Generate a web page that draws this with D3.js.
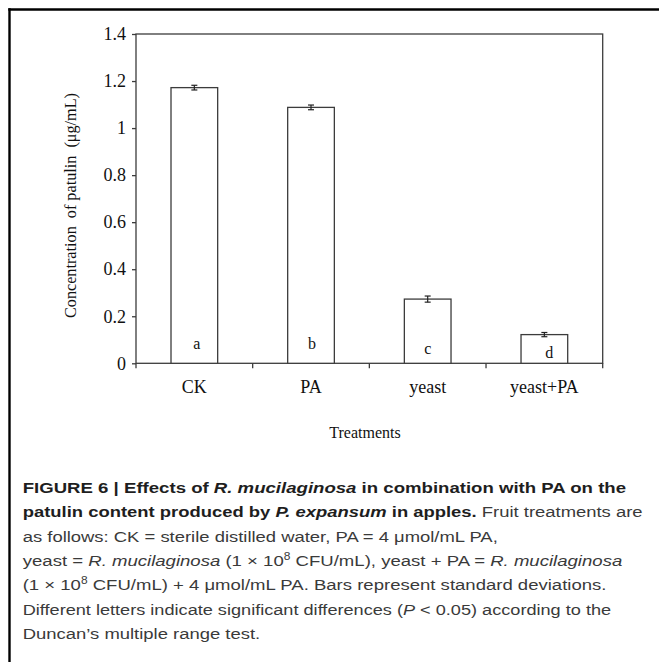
<!DOCTYPE html>
<html>
<head>
<meta charset="utf-8">
<script src="https://cdn.jsdelivr.net/npm/d3@7/dist/d3.min.js"></script>
<style>
  html, body { margin: 0; padding: 0; background: #fff; }
  svg { display: block; }
</style>
</head>
<body>
<svg id="chart" width="659" height="662"></svg>
<script>
// ---------------- DATA ----------------
const categories = ["CK", "PA", "yeast", "yeast+PA"];
const patulinValues = [1.172, 1.088, 0.273, 0.122];
const patulinSD = [0.010, 0.010, 0.013, 0.009];
const significanceLetters = ["a", "b", "c", "d"];
const yTickValues = [0, 0.2, 0.4, 0.6, 0.8, 1.0, 1.2, 1.4];
const yTickLabels = ["0", "0.2", "0.4", "0.6", "0.8", "1", "1.2", "1.4"];
const yAxisTitle = "Concentration  of patulin  (\u03BCg/mL)";
const xAxisTitle = "Treatments";

// caption lines: arrays of [text, style] runs
const captionLines = [
  [["FIGURE 6 | Effects of ", "b"], ["R. mucilaginosa", "bi"], [" in combination with PA on the", "b"]],
  [["patulin content produced by ", "b"], ["P. expansum", "bi"], [" in apples.", "b"], [" Fruit treatments are", "r"]],
  [["as follows: CK = sterile distilled water, PA = 4 \u03BCmol/mL PA,", "r"]],
  [["yeast = ", "r"], ["R. mucilaginosa", "i"], [" (1 \u00D7 10", "r"], ["8", "sup"], [" CFU/mL), yeast + PA = ", "r"], ["R. mucilaginosa", "i"]],
  [["(1 \u00D7 10", "r"], ["8", "sup"], [" CFU/mL) + 4 \u03BCmol/mL PA. Bars represent standard deviations.", "r"]],
  [["Different letters indicate significant differences (", "r"], ["P", "i"], [" < 0.05) according to the", "r"]],
  [["Duncan\u2019s multiple range test.", "r"]]
];

// ---------------- LAYOUT ----------------
const plot = { left: 136, right: 602.7, top: 34, bottom: 363.3 };
const captionLayout = { x: 22.7, firstBaseline: 493, lineGap: 24.3,
  lineEnds: [626.7, 643, 498.3, 622.7, 606.7, 611.7, null] };
const letterNudge = [{dx: 2.5, y: 349}, {dx: 1, y: 349}, {dx: 0, y: 354}, {dx: 5, y: 357.5}];

const svg = d3.select("#chart");
const serif = "'Liberation Serif', 'Times New Roman', serif";
const sans = "'Liberation Sans', Arial, Helvetica, sans-serif";
const axisColor = "#3c3c3c";

// page frame (top + left rules)
svg.append("line").attr("x1", 8.3).attr("x2", 659).attr("y1", 9.5).attr("y2", 9.5)
  .attr("stroke", "#000").attr("stroke-width", 2.4);
svg.append("line").attr("x1", 9.5).attr("x2", 9.5).attr("y1", 8.3).attr("y2", 662)
  .attr("stroke", "#000").attr("stroke-width", 2.4);

// scales
const x = d3.scaleBand().domain(categories).range([plot.left, plot.right]).paddingInner(0.6).paddingOuter(0.3);
const xOuter = d3.scaleBand().domain(categories).range([plot.left, plot.right]).padding(0);
const y = d3.scaleLinear().domain([0, 1.4]).range([plot.bottom, plot.top]);

// plot frame
svg.append("rect").attr("x", plot.left).attr("y", plot.top)
  .attr("width", plot.right - plot.left).attr("height", plot.bottom - plot.top)
  .attr("fill", "none").attr("stroke", axisColor).attr("stroke-width", 1.3);

// y axis
const yAxis = d3.axisLeft(y).tickValues(yTickValues)
  .tickFormat((d, i) => yTickLabels[i]).tickSize(4).tickPadding(6);
const gy = svg.append("g").attr("transform", `translate(${plot.left},0)`).call(yAxis);
gy.select(".domain").remove();
gy.selectAll(".tick line").attr("stroke", axisColor).attr("stroke-width", 1.3);
gy.selectAll(".tick text").attr("font-family", serif).attr("font-size", 18).attr("fill", "#111");

// x axis: ticks at band boundaries
const xAxis = d3.axisBottom(x).tickSize(0).tickPadding(17);
const gx = svg.append("g").attr("transform", `translate(0,${plot.bottom})`).call(xAxis);
gx.select(".domain").remove();
gx.selectAll(".tick text").attr("font-family", serif).attr("font-size", 18).attr("fill", "#111");
const boundaries = categories.map(c => xOuter(c)).concat([plot.right]);
svg.append("g").selectAll("line").data(boundaries).join("line")
  .attr("x1", d => d).attr("x2", d => d).attr("y1", plot.bottom).attr("y2", plot.bottom + 5)
  .attr("stroke", axisColor).attr("stroke-width", 1.3);

// bars
svg.append("g").selectAll("rect").data(categories).join("rect")
  .attr("x", d => x(d)).attr("width", x.bandwidth())
  .attr("y", (d, i) => y(patulinValues[i]))
  .attr("height", (d, i) => y(0) - y(patulinValues[i]))
  .attr("fill", "#fff").attr("stroke", axisColor).attr("stroke-width", 1.3);

// error bars
const eb = svg.append("g").attr("stroke", "#222").attr("stroke-width", 1.2);
categories.forEach((c, i) => {
  const cx = x(c) + x.bandwidth() / 2;
  const v = patulinValues[i], e = patulinSD[i];
  eb.append("line").attr("x1", cx).attr("x2", cx).attr("y1", y(v - e)).attr("y2", y(v + e));
  eb.append("line").attr("x1", cx - 3).attr("x2", cx + 3).attr("y1", y(v - e)).attr("y2", y(v - e));
  eb.append("line").attr("x1", cx - 3).attr("x2", cx + 3).attr("y1", y(v + e)).attr("y2", y(v + e));
});

// significance letters
svg.append("g").selectAll("text").data(categories).join("text")
  .attr("x", (d, i) => x(d) + x.bandwidth() / 2 + letterNudge[i].dx)
  .attr("y", (d, i) => letterNudge[i].y)
  .attr("text-anchor", "middle").attr("font-family", serif).attr("font-size", 16).attr("fill", "#111")
  .text((d, i) => significanceLetters[i]);

// y axis title
svg.append("text")
  .attr("transform", `translate(76,205.5) rotate(-90)`)
  .attr("text-anchor", "middle").attr("font-family", serif).attr("font-size", 16.5).attr("fill", "#111")
  .attr("xml:space", "preserve").style("white-space", "pre")
  .attr("textLength", 225).attr("lengthAdjust", "spacingAndGlyphs")
  .text(yAxisTitle);

// x axis title
svg.append("text").attr("x", 365).attr("y", 438).attr("text-anchor", "middle")
  .attr("font-family", serif).attr("font-size", 16).attr("fill", "#111").text(xAxisTitle);

// caption
const capG = svg.append("g");
const lineNodes = [];
captionLines.forEach((runs, li) => {
  const t = capG.append("text").attr("x", 0).attr("y", 0)
    .attr("font-family", sans).attr("font-size", 15.5).style("white-space", "pre");
  let supShift = 0;
  runs.forEach(([txt, st]) => {
    const ts = t.append("tspan").text(txt);
    if (st === "b" || st === "bi") ts.attr("font-weight", "bold").attr("fill", "#1e1e1e");
    else ts.attr("fill", "#3a3a3a");
    if (st === "bi" || st === "i") ts.attr("font-style", "italic");
    if (st === "sup") { ts.attr("font-size", 10).attr("dy", -6); supShift = 6; }
    else if (supShift) { ts.attr("dy", supShift); supShift = 0; }
  });
  lineNodes.push(t);
});
// fit each line to its measured width
const ratios = [];
lineNodes.forEach((t, i) => {
  const w = t.node().getComputedTextLength();
  const end = captionLayout.lineEnds[i];
  if (end != null) ratios.push((end - captionLayout.x) / w);
});
const meanRatio = d3.mean(ratios);
lineNodes.forEach((t, i) => {
  const w = t.node().getComputedTextLength();
  const end = captionLayout.lineEnds[i];
  const s = end != null ? (end - captionLayout.x) / w : meanRatio;
  t.attr("transform", `translate(${captionLayout.x},${captionLayout.firstBaseline + i * captionLayout.lineGap}) scale(${s},1)`);
});
</script>
</body>
</html>
